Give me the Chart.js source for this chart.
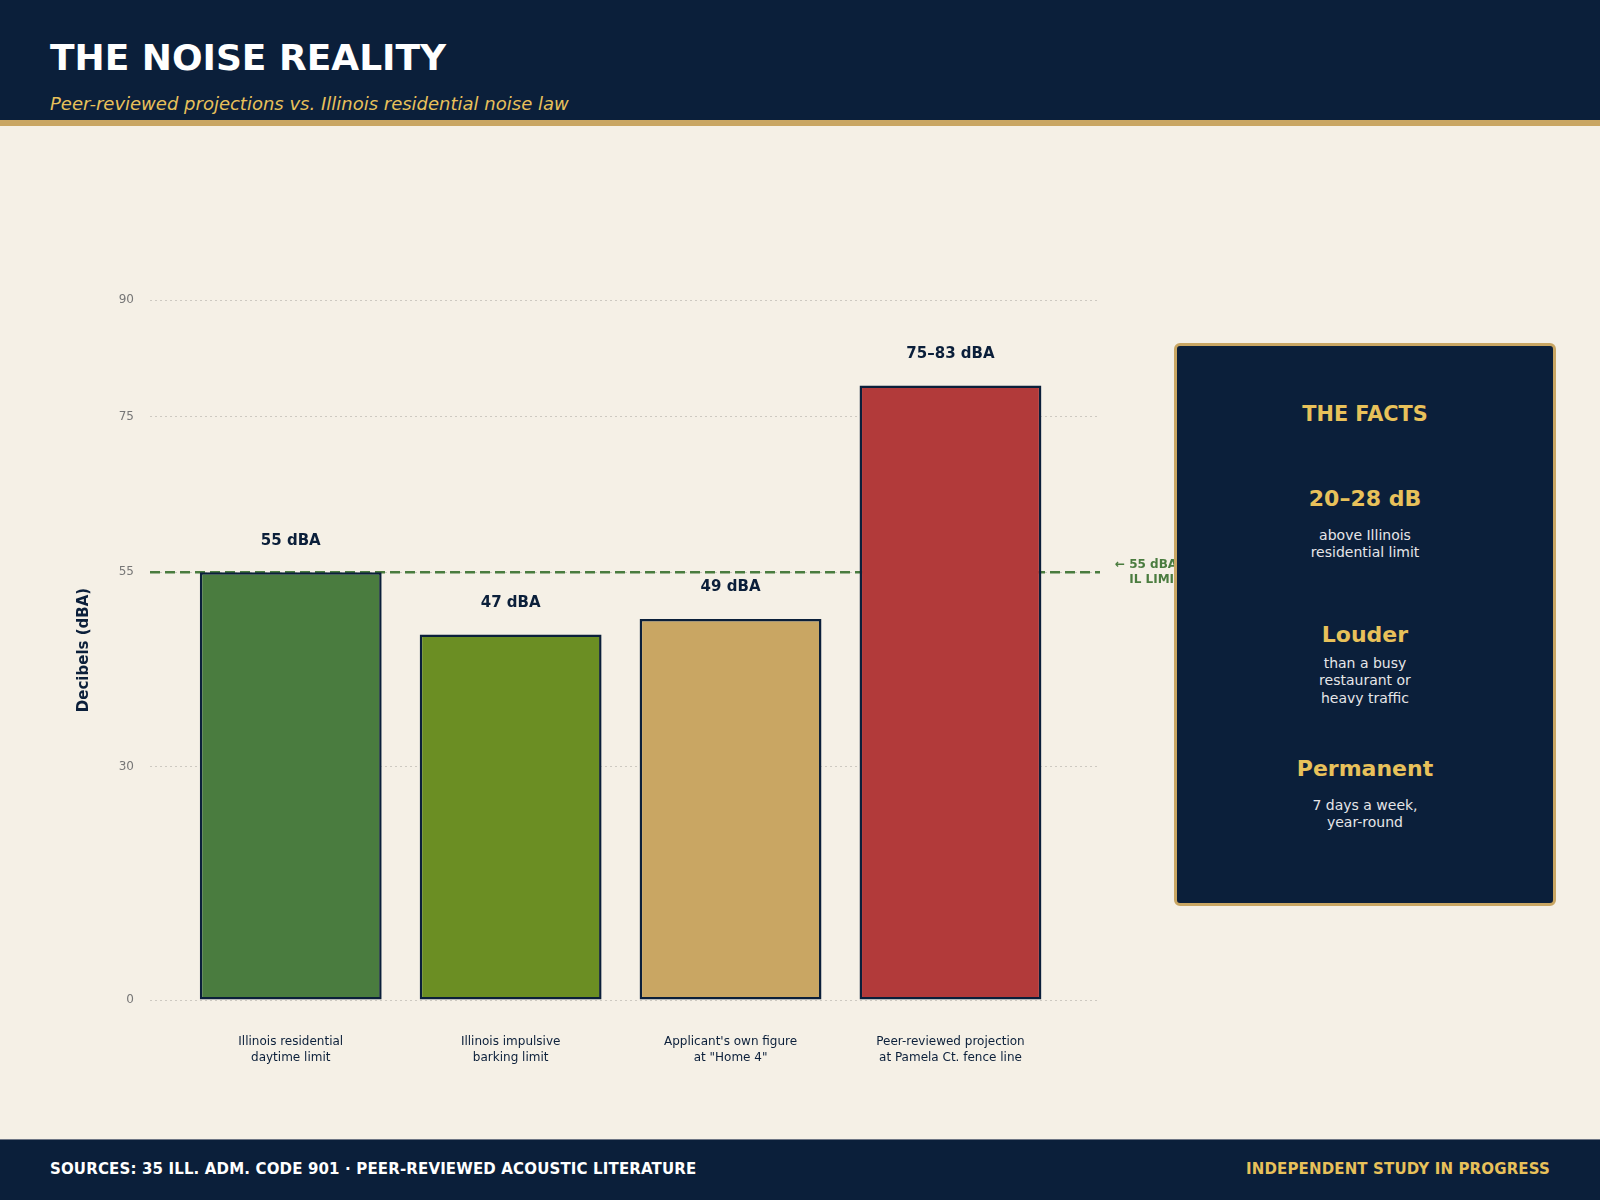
<!DOCTYPE html>
<html>
<head>
<meta charset="utf-8">
<title>The Noise Reality</title>
<script src="https://cdn.jsdelivr.net/npm/chart.js@4.4.1/dist/chart.umd.min.js"></script>
<style>
  body { margin: 0; width: 1600px; height: 1200px; background: #f5f0e6; font-family: 'DejaVu Sans', sans-serif; position: relative; overflow: hidden; }
  #header { position: absolute; left: 0; top: 0; width: 1600px; height: 120px; background: #0b1f3a; border-bottom: 6px solid #c9a663; }
  #title { position: absolute; left: 50px; top: 37px; margin: 0; font-size: 36px; font-weight: bold; color: #ffffff; line-height: normal; }
  #subtitle { position: absolute; left: 50px; top: 93px; font-size: 18px; font-style: italic; color: #e8c15a; line-height: normal; }
  #chartWrap { position: absolute; left: 0; top: 126px; width: 1600px; height: 1014px; }
  #facts { position: absolute; left: 1174px; top: 343px; width: 382px; height: 563px; box-sizing: border-box; background: #0b1f3a; border: 3px solid #c9a663; border-radius: 6px; z-index: 2; }
  #facts div { position: absolute; left: 0; width: 100%; text-align: center; }
  #facts .head { font-size: 22px; font-weight: bold; color: #e8c15a; line-height: 26.4px; }
  #facts .big { font-size: 20.8px; line-height: 24.96px; }
  #facts .sub { font-size: 14px; color: #e6e6e8; line-height: 17.3px; }
  #footer { position: absolute; left: 0; top: 1139px; width: 1600px; height: 61px; background: #0b1f3a; border-top: 1px solid #6e7685; box-sizing: border-box; }
  #footer span { position: absolute; top: 20px; font-size: 15px; letter-spacing: 0.15px; font-weight: bold; line-height: normal; }
  #srcLeft { left: 50px; color: #ffffff; }
  #srcRight { right: 50px; color: #e8c15a; }
</style>
</head>
<body>
<div id="header">
  <h1 id="title">THE NOISE REALITY</h1>
  <div id="subtitle">Peer-reviewed projections vs. Illinois residential noise law</div>
</div>

<div id="chartWrap"><canvas id="noiseChart"></canvas></div>

<div id="facts">
  <div class="head big" style="top:56px">THE FACTS</div>
  <div class="head" style="top:140px">20–28 dB</div>
  <div class="sub" style="top:181px">above Illinois<br>residential limit</div>
  <div class="head" style="top:276px">Louder</div>
  <div class="sub" style="top:309px">than a busy<br>restaurant or<br>heavy traffic</div>
  <div class="head" style="top:410px">Permanent</div>
  <div class="sub" style="top:451px">7 days a week,<br>year-round</div>
</div>

<div id="footer">
  <span id="srcLeft">SOURCES: 35 ILL. ADM. CODE 901 · PEER-REVIEWED ACOUSTIC LITERATURE</span>
  <span id="srcRight">INDEPENDENT STUDY IN PROGRESS</span>
</div>

<script>
// Chart data
const categories = [
  ['Illinois residential', 'daytime limit'],
  ['Illinois impulsive', 'barking limit'],
  ["Applicant's own figure", 'at "Home 4"'],
  ['Peer-reviewed projection', 'at Pamela Ct. fence line']
];
const decibels = [55, 47, 49, 79];
const valueLabels = ['55 dBA', '47 dBA', '49 dBA', '75–83 dBA'];
const yTicks = [0, 30, 55, 75, 90];
const limitValue = 55;
const limitLabel = ['← 55 dBA', 'IL LIMIT'];

// Colours
const NAVY = '#0b1f3a';
const GREEN = '#4a7c3f';
const barColors = ['#4a7c3f', '#6b8e23', '#c9a663', '#b23a3a'];

Chart.defaults.font.family = "'DejaVu Sans', sans-serif";

// Dashed IL limit line, drawn under the bars
const limitLine = {
  id: 'limitLine',
  beforeDatasetsDraw(chart) {
    const { ctx, chartArea } = chart;
    const y = chart.scales.y.getPixelForValue(limitValue);
    ctx.save();
    ctx.strokeStyle = GREEN;
    ctx.lineWidth = 2.5;
    ctx.setLineDash([10, 5]);
    ctx.beginPath();
    ctx.moveTo(chartArea.left, y);
    ctx.lineTo(chartArea.right, y);
    ctx.stroke();
    ctx.setLineDash([]);
    ctx.fillStyle = GREEN;
    ctx.font = "bold 12px 'DejaVu Sans'";
    ctx.textAlign = 'left';
    ctx.textBaseline = 'alphabetic';
    const x0 = chartArea.right + 15;
    ctx.fillText(limitLabel[0], x0, y - 4);
    ctx.fillText(limitLabel[1], x0 + ctx.measureText('← ').width, y + 11);
    ctx.restore();
  }
};

// Value labels above each bar
const barLabels = {
  id: 'barLabels',
  afterDatasetsDraw(chart) {
    const { ctx } = chart;
    const meta = chart.getDatasetMeta(0);
    ctx.save();
    ctx.fillStyle = NAVY;
    ctx.font = "bold 15px 'DejaVu Sans'";
    ctx.textAlign = 'center';
    ctx.textBaseline = 'alphabetic';
    meta.data.forEach((bar, i) => {
      ctx.fillText(valueLabels[i], bar.x, bar.y - 27.5);
    });
    ctx.restore();
  }
};

const ctx = document.getElementById('noiseChart').getContext('2d');
new Chart(ctx, {
  type: 'bar',
  data: {
    datasets: [{
      data: decibels.map((v, i) => ({ x: i, y: v })),
      backgroundColor: barColors,
      borderColor: NAVY,
      borderWidth: 2.5,
      borderSkipped: false,
      categoryPercentage: 1,
      barPercentage: 0.827
    }]
  },
  options: {
    responsive: true,
    maintainAspectRatio: false,
    animation: false,
    layout: { padding: { left: 71, right: 500, top: 174, bottom: 0 } },
    plugins: { legend: { display: false }, tooltip: { enabled: false } },
    scales: {
      x: {
        type: 'linear',
        offset: false,
        bounds: 'data',
        min: -0.64,
        max: 3.68,
        grid: { display: false, drawTicks: false },
        border: { display: false },
        afterBuildTicks: (scale) => { scale.ticks = categories.map((c, i) => ({ value: i })); },
        afterFit: (scale) => { scale.height = 140; },
        ticks: {
          padding: 34,
          color: NAVY,
          font: { size: 12, lineHeight: 1.33 },
          callback: (v) => categories[v]
        }
      },
      y: {
        min: 0,
        max: 90,
        afterBuildTicks: (scale) => { scale.ticks = yTicks.map(v => ({ value: v })); },
        afterFit: (scale) => { scale.width = 79; },
        grid: { color: 'rgba(0,0,0,0.16)', lineWidth: 1, drawTicks: false },
        border: { display: false, dash: [2, 3] },
        ticks: { padding: 16, color: '#777777', font: { size: 12 } },
        title: {
          display: true,
          text: 'Decibels (dBA)',
          color: NAVY,
          font: { size: 15, weight: 'bold' }
        }
      }
    }
  },
  plugins: [limitLine, barLabels]
});
</script>
</body>
</html>
